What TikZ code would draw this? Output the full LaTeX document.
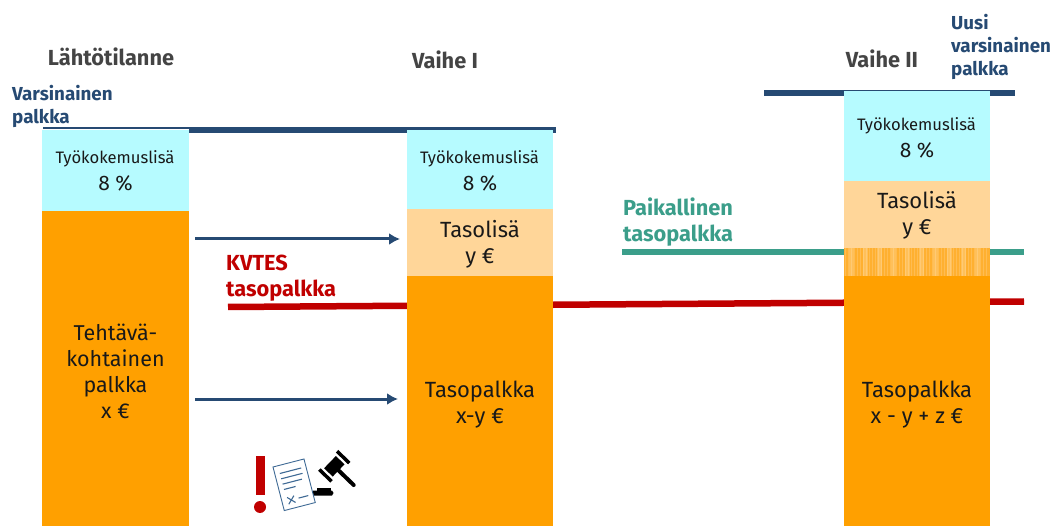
\documentclass[tikz,border=0pt]{standalone}
\usepackage{fontspec}
\setmainfont{Fira Sans}
\usetikzlibrary{arrows.meta}
\definecolor{navy}{HTML}{264A73}
\definecolor{cyanb}{HTML}{B6FBFF}
\definecolor{orangeb}{HTML}{FFA000}
\definecolor{lightb}{HTML}{FFD699}
\definecolor{hatcha}{HTML}{FFB030}
\definecolor{hatchb}{HTML}{FFC05A}
\definecolor{redl}{HTML}{C00000}
\definecolor{greenl}{HTML}{3B9E8A}
\definecolor{headc}{HTML}{444444}
\definecolor{docb}{HTML}{3F6A95}
\tikzset{
 barbox/.style={rectangle,inner sep=0,outer sep=0,minimum width=146.5pt,align=center,text=black!90,font=\fontsize{22}{26}\selectfont},
 cyanbox/.style={barbox,fill=cyanb},
 orangebox/.style={barbox,fill=orangeb},
 lightbox/.style={barbox,fill=lightb},
 head/.style={font=\fontsize{21.8}{24}\selectfont\bfseries,text=headc,inner sep=0},
 navylabel/.style={font=\fontsize{18.8}{23}\selectfont\bfseries,text=navy,align=left,inner sep=0},
 redlabel/.style={font=\fontsize{21.8}{26}\selectfont\bfseries,text=redl,align=left,inner sep=0},
 greenlabel/.style={font=\fontsize{21.8}{26}\selectfont\bfseries,text=greenl,align=left,inner sep=0},
 small/.style={font=\fontsize{16.6}{22}\selectfont,text=black!90},
 navyline/.style={navy,line width=5.5pt},
 thinnavy/.style={navy,line width=3pt,-{Latex[length=11pt,width=12pt]}},
}
\begin{document}
\begin{tikzpicture}[x=1pt,y=-1pt]
\useasboundingbox (0,0) rectangle (1060,526);
% level lines
\coordinate (n1a) at (43,128);
\coordinate (n1b) at (189,130);
\coordinate (n1c) at (556,130);
\coordinate (n2a) at (764,93);
\coordinate (n2b) at (1015,93);
\coordinate (ga) at (622,252);
\coordinate (gb) at (1024,252);
\coordinate (ra) at (228,307);
\coordinate (rb) at (1024,301.5);
\draw[navy,line width=2.5pt] (n1a) -- (189,128);
\draw[navyline] (n1b) -- (n1c);
\draw[navyline] (n2a) -- (n2b);
\draw[greenl,line width=6pt] (ga) -- (gb);
\draw[redl,line width=6.5pt] (ra) -- (rb);
% column 1
\node[cyanbox,minimum width=147pt,minimum height=81pt] (c1) at (115.5,170.5) {};
\node[orangebox,minimum width=147pt,minimum height=315pt] (o1) at (115.5,368.5) {};
\node[small] (c1t) at (115,159) {Työkokemuslisä};
\node[barbox,fill=none,font=\fontsize{21}{26}\selectfont] (c1p) at (115.5,183.5) {8 \%};
\node[barbox,fill=none,font=\fontsize{21.5}{26}\selectfont] (o1t) at (115.5,371) {Tehtävä-\\kohtainen\\palkka\\x €};
% column 2
\node[cyanbox,minimum height=79pt] (c2) at (480,169.5) {};
\node[lightbox,minimum height=67pt] (l2) at (480,242.5) {};
\node[orangebox,minimum height=250pt] (o2) at (480,401) {};
\node[small] (c2t) at (479.5,159) {Työkokemuslisä};
\node[barbox,fill=none,font=\fontsize{21}{26}\selectfont] (c2p) at (480,183.5) {8 \%};
\node[barbox,fill=none] (l2t) at (480,244.5) {Tasolisä\\y €};
\node[barbox,fill=none] (o2t) at (480,404.5) {Tasopalkka\\x-y €};
% column 3
\node[cyanbox,minimum height=90pt] (c3) at (917,136) {};
\node[lightbox,minimum height=67pt] (l3) at (917,214.5) {};
\node[orangebox,minimum height=250pt] (o3) at (917,401) {};
\node[barbox,fill=hatcha,minimum height=28pt] (h3) at (917,262) {};
\foreach \x in {849,863,...,985}{
  \fill[hatchb] (\x,248) rectangle (\x+5,276);
}
\foreach \x in {845,848,...,988}{
  \draw[white,opacity=.16,line width=1pt] (\x,248) -- (\x,276);
}
\node[small] (c3t) at (916.5,126) {Työkokemuslisä};
\node[barbox,fill=none,font=\fontsize{21}{26}\selectfont] (c3p) at (917,150.5) {8 \%};
\node[barbox,fill=none] (l3t) at (917,215.5) {Tasolisä\\y €};
\node[barbox,fill=none] (o3t) at (917,404.5) {Tasopalkka\\x - y + z €};
% headings and labels
\node[head] (h1) at (111,57) {Lähtötilanne};
\node[head] (h2) at (445,60) {Vaihe I};
\node[head] (h3b) at (882,59) {Vaihe II};
\node[navylabel,anchor=north west] (lv) at (12,85) {Varsinainen\\palkka};
\node[navylabel,anchor=north west] (lu) at (951,14) {Uusi\\varsinainen\\palkka};
\node[redlabel,anchor=north west] (lk) at (226,254.5) {KVTES\\tasopalkka};
\node[greenlabel,anchor=north west] (lp) at (623,198) {Paikallinen\\tasopalkka};
% arrows
\coordinate (a1s) at (195,239);
\coordinate (a1e) at (400,239);
\coordinate (a2s) at (195,399);
\coordinate (a2e) at (398,399);
\draw[thinnavy] (a1s) -- (a1e);
\draw[thinnavy] (a2s) -- (a2e);
% icon: exclamation mark
\fill[redl] (256,456) rectangle (264.5,495);
\fill[redl] (260,507) circle (6);
% icon: gavel base
\fill[black] (313,490.5) -- (332,490.5) -- (333.5,493) -- (332,495.5) -- (313,495.5) -- cycle;
\fill[black] (317,488) rectangle (331,491);
% icon: document
\begin{scope}[shift={(273,467)},rotate=14.5]
\fill[white] (0,0) rectangle (32,45);
\draw[docb,line width=.9pt] (0,0) rectangle (32,45);
\draw[docb,line width=1.1pt] (5,8) -- (27,8) (5,13.5) -- (27,13.5) (5,19) -- (25,19) (5,24.5) -- (17,24.5);
\draw[docb,line width=1.1pt] (6,33) -- (13,40) (13,33) -- (6,40) (17,36.5) -- (27,36.5);
\end{scope}
% icon: gavel head
\begin{scope}[shift={(334.3,466.3)},rotate=46]
\fill[black] (-8.5,-6) rectangle (8.5,6);
\fill[black] (-14.5,-8.5) rectangle (-11,8.5);
\fill[black] (11,-8.5) rectangle (14.5,8.5);
\draw[black,line width=4pt,line cap=round] (0,5) -- (0,27);
\end{scope}
\end{tikzpicture}
\end{document}
